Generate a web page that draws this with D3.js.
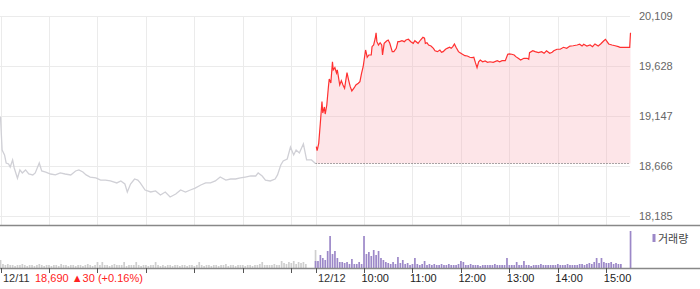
<!DOCTYPE html>
<html>
  <head>
    <meta charset="utf-8">
    <script src="https://d3js.org/d3.v7.min.js"></script>
    <style>
      body { margin: 0; background: #fff; }
      svg { display: block; }
      .tick-label { font: 11px "Liberation Sans", Arial, sans-serif; }
    </style>
  </head>
  <body>
    <div id="chart"></div>
    <script>
      // 12/11 intraday (gray)
      const day1Times = ["09:00","09:02","09:05","09:07","09:10","09:12","09:15","09:17","09:21","09:24","09:27","09:31","09:35","09:40","09:43","09:48","09:51","09:56","10:02","10:08","10:14","10:20","10:27","10:33","10:37","10:42","10:46","10:51","10:58","11:04","11:10","11:16","11:24","11:29","11:34","11:37","11:41","11:46","11:50","11:53","11:59","12:06","12:12","12:18","12:24","12:30","12:37","12:43","12:49","12:55","13:01","13:08","13:14","13:20","13:26","13:32","13:39","13:45","13:51","13:57","14:03","14:10","14:16","14:19","14:24","14:28","14:34","14:40","14:43","14:47","14:50","14:55","14:59","15:03","15:06","15:10","15:15","15:19","15:25","15:30"];
      const day1Prices = [19140,18820,18772,18695,18685,18656,18724,18647,18548,18628,18599,18628,18589,18580,18599,18695,18618,18608,18589,18580,18599,18589,18580,18618,18628,18608,18580,18560,18551,18531,18531,18522,18503,18522,18493,18416,18493,18541,18531,18503,18435,18416,18426,18387,18416,18368,18397,18435,18416,18435,18454,18483,18503,18503,18522,18560,18531,18541,18541,18551,18560,18570,18570,18599,18570,18531,18522,18541,18580,18676,18714,18733,18849,18772,18820,18791,18878,18724,18724,18690];

      // 12/12 intraday (red)
      const day2Times = ["09:01","09:02","09:04","09:06","09:08","09:09","09:11","09:12","09:14","09:16","09:17","09:19","09:21","09:22","09:24","09:26","09:27","09:30","09:32","09:34","09:36","09:39","09:41","09:43","09:45","09:48","09:50","09:53","09:55","09:57","09:59","10:02","10:03","10:04","10:06","10:09","10:10","10:12","10:14","10:15","10:16","10:18","10:20","10:22","10:23","10:25","10:28","10:30","10:32","10:35","10:37","10:40","10:42","10:44","10:47","10:50","10:52","10:55","10:58","11:01","11:03","11:07","11:10","11:13","11:15","11:16","11:18","11:20","11:23","11:26","11:28","11:31","11:34","11:36","11:38","11:41","11:43","11:46","11:48","11:50","11:52","11:54","11:57","11:59","12:02","12:05","12:08","12:11","12:14","12:16","12:18","12:20","12:22","12:24","12:27","12:30","12:33","12:36","12:40","12:45","12:48","12:51","12:55","12:58","13:00","13:03","13:06","13:08","13:11","13:14","13:18","13:22","13:24","13:25","13:29","13:32","13:36","13:40","13:43","13:46","13:50","13:53","13:55","13:59","14:03","14:07","14:11","14:15","14:19","14:24","14:27","14:30","14:32","14:36","14:40","14:43","14:46","14:50","14:53","14:57","14:59","15:01","15:03","15:07","15:11","15:15","15:17","15:23","15:29","15:30"];
      const day2Prices = [18852,18813,18884,19080,19285,19176,19234,19166,19253,19429,19503,19465,19669,19590,19612,19561,19590,19445,19487,19445,19414,19564,19493,19429,19388,19419,19445,19462,19477,19558,19621,19782,19750,19712,19734,19734,19814,19830,19895,19948,19862,19830,19852,19830,19734,19846,19869,19878,19846,19766,19766,19798,19862,19862,19871,19862,19878,19885,19862,19846,19871,19846,19878,19904,19895,19846,19852,19830,19820,19798,19775,19766,19782,19760,19766,19789,19798,19808,19798,19814,19840,19808,19766,19756,19741,19727,19724,19712,19708,19712,19660,19612,19669,19686,19669,19676,19664,19669,19664,19679,19669,19679,19679,19741,19744,19741,19734,19718,19702,19686,19702,19702,19693,19756,19775,19766,19756,19766,19750,19775,19750,19760,19775,19789,19789,19808,19798,19820,19823,19830,19837,19820,19837,19820,19830,19814,19840,19820,19840,19871,19885,19862,19840,19830,19823,19814,19808,19808,19808,19948];

      // volume, one bar per 3 minutes from 09:00 to 15:30
      const day1Volume = [8,4,3,4,3, 3,2,3,3,4,3,2,3,3,2,3,4,3,2,3, 3,2,3,3,2,4,3,3,2,3,3,2,3,3,2,3,4,3,2,3, 6,3,6,3,3,2,3,4,3,3,3,6,2,3,3,3,6,3,2,3, 3,2,3,3,6,3,2,3,2,3,3,2,3,3,2,3,3,2,3,3, 2,3,6,3,2,3,3,2,3,3,2,3,3,4,2,3,3,2,3,3, 3,2,3,3,2,3,3,4,6,3,3,3,3,4,3,3,7,5,4,6, 5,7,4,6,5,6,4,0,0,0,18];
      const day2Volume = [7,7,13,10,8,17,32,14,17,10,6,6,5,6,4,9,4,4,6,4,32, 14,16,12,18,13,17,10,8,6,5,4,6,4,11,5,8,4,5,3,4, 10,4,3,4,7,3,4,3,4,3,3,4,3,3,4,3,3,3,4,7, 6,3,3,4,3,3,3,2,3,3,3,3,3,4,3,3,3,3,10,3, 3,3,6,3,3,7,3,3,2,3,3,3,4,3,3,3,3,3,3,4, 3,3,3,4,3,3,3,3,4,4,3,4,5,4,6,10,5,10,6,5, 5,6,4,5,4,4,0,0,0,37];

      const prevClose = 18690;
      const priceTicks = [18185, 18666, 19147, 19628, 20109];
      const timeTicks = ["10:00", "11:00", "12:00", "13:00", "14:00", "15:00"];
      const dayLabels = ["12/11", "12/12"];

      const width = 700, height = 289;
      const sessionLen = 390;

      const svg = d3.select("#chart").append("svg")
        .attr("width", width)
        .attr("height", height);

      const toMin = (t) => {
        const [h, m] = t.split(":").map(Number);
        return (h - 9) * 60 + m;
      };

      const x = d3.scaleLinear().domain([0, sessionLen * 2]).range([0.5, 630.5]);
      const y = d3.scaleLinear().domain([18185, 20109]).range([216, 16]);
      const yVol = d3.scaleLinear().domain([0, 40]).range([268, 228]);

      // grid
      const grid = svg.append("g").attr("stroke", "#ebebeb").attr("stroke-width", 1);
      grid.selectAll(".hgrid").data(priceTicks).enter().append("line")
        .attr("x1", 0).attr("x2", 630)
        .attr("y1", (d) => Math.round(y(d)) + 0.5).attr("y2", (d) => Math.round(y(d)) + 0.5);

      const gridMins = [0];
      [0, sessionLen].forEach((off, i) => {
        if (i === 1) gridMins.push(off);
        timeTicks.forEach((t) => gridMins.push(off + toMin(t)));
      });
      grid.selectAll(".vgrid").data(gridMins).enter().append("line")
        .attr("x1", (d) => Math.round(x(d)) + 0.5).attr("x2", (d) => Math.round(x(d)) + 0.5)
        .attr("y1", 16).attr("y2", 225);

      // red area (above previous close)
      const d2 = day2Times.map((t, i) => ({ m: sessionLen + toMin(t), v: day2Prices[i] }));
      const d1 = day1Times.map((t, i) => ({ m: toMin(t), v: day1Prices[i] }));

      svg.append("path")
        .datum(d2)
        .attr("fill", "rgba(248,170,180,0.3)")
        .attr("d", d3.area().x((d) => x(d.m)).y0(y(prevClose)).y1((d) => y(d.v)));

      svg.append("line")
        .attr("x1", x(sessionLen)).attr("x2", 630)
        .attr("y1", y(prevClose)).attr("y2", y(prevClose))
        .attr("stroke", "#555").attr("stroke-dasharray", "1,2");

      svg.append("path")
        .datum(d1)
        .attr("fill", "none")
        .attr("stroke", "#d0d0d6")
        .attr("stroke-width", 1.3)
        .attr("d", d3.line().x((d) => x(d.m)).y((d) => y(d.v)));

      svg.append("path")
        .datum(d2)
        .attr("fill", "none")
        .attr("stroke", "#ff3030")
        .attr("stroke-width", 1.2)
        .attr("d", d3.line().x((d) => x(d.m)).y((d) => y(d.v)));

      // right price labels
      svg.selectAll(".plabel").data(priceTicks).enter().append("text")
        .attr("class", "tick-label")
        .attr("x", 639).attr("y", (d) => y(d) + 4)
        .attr("fill", "#666")
        .text((d) => d3.format(",")(d));

      // volume
      const volBars = [];
      day1Volume.forEach((v, i) => volBars.push({ m: i * 3, v, c: "#cfcfcf" }));
      day2Volume.forEach((v, i) => volBars.push({ m: sessionLen + i * 3, v, c: "#9c88c8" }));
      svg.selectAll(".vol").data(volBars).enter().append("rect")
        .attr("x", (d) => x(d.m) - 0.8)
        .attr("width", 1.7)
        .attr("y", (d) => yVol(d.v))
        .attr("height", (d) => 268 - yVol(d.v))
        .attr("fill", (d) => d.c);

      // panel lines
      svg.append("line").attr("x1", 0).attr("x2", width).attr("y1", 225.5).attr("y2", 225.5)
        .attr("stroke", "#888").attr("stroke-width", 1.5);
      svg.append("line").attr("x1", 0).attr("x2", width).attr("y1", 268.5).attr("y2", 268.5)
        .attr("stroke", "#888").attr("stroke-width", 1.5);

      // bottom ticks and labels
      svg.selectAll(".xtick").data(gridMins).enter().append("line")
        .attr("x1", (d) => Math.round(x(d)) + 0.5).attr("x2", (d) => Math.round(x(d)) + 0.5)
        .attr("y1", 268).attr("y2", 273)
        .attr("stroke", "#555");

      svg.append("text").attr("class", "tick-label").attr("x", 3).attr("y", 282)
        .attr("fill", "#333").text(dayLabels[0]);
      svg.append("text").attr("class", "tick-label").attr("x", x(sessionLen) + 2.5).attr("y", 282)
        .attr("fill", "#333").text(dayLabels[1]);
      svg.selectAll(".tlabel").data(timeTicks).enter().append("text")
        .attr("class", "tick-label")
        .attr("x", (d) => x(sessionLen + toMin(d)) - 2.5).attr("y", 282)
        .attr("fill", "#222")
        .text((d) => d);

      svg.append("text").attr("class", "tick-label").attr("x", 35).attr("y", 282)
        .attr("fill", "#f22")
        .text("18,690 ▲30 (+0.16%)");

      // legend
      svg.append("rect").attr("x", 652.5).attr("y", 234).attr("width", 3).attr("height", 8)
        .attr("fill", "#9c88c8");
      svg.append("text").attr("x", 658).attr("y", 243)
        .style("font", "11px 'Noto Sans CJK KR', sans-serif")
        .attr("fill", "#444").text("거래량");
    </script>
  </body>
</html>
